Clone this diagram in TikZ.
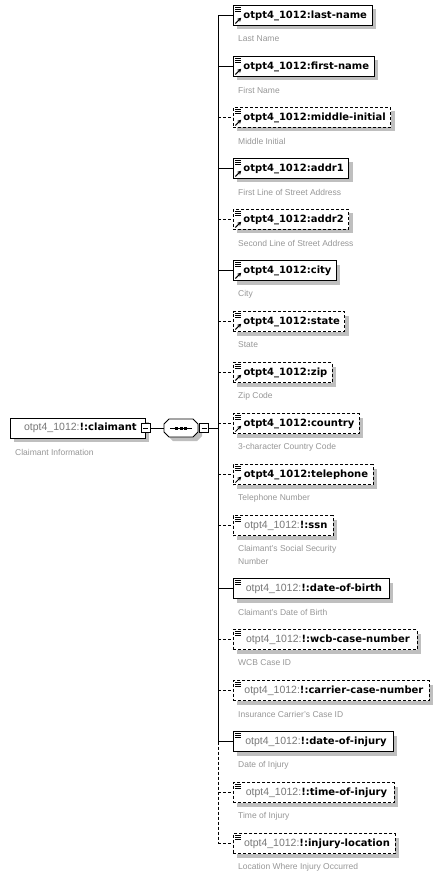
\documentclass[tikz,border=0pt]{standalone}
\usepackage{fontspec}
\setmainfont{Liberation Sans}
\newfontfamily\namefont{DejaVu Sans}
\usepackage{tikz}
\usetikzlibrary{arrows.meta,shadows}

\definecolor{pfxgray}{RGB}{120,120,120}
\definecolor{descgray}{RGB}{150,150,150}
\newcommand{\pfx}{{\normalfont\fontsize{10.5}{12}\selectfont\color{pfxgray}otpt4\_1012:}}

\tikzset{
  shade box/.style={drop shadow={shadow xshift=4pt, shadow yshift=-4pt, fill=black!25, opacity=1}},
  box/.style={draw, line width=0.9pt, fill=white, anchor=west,
    minimum height=20pt, inner xsep=5pt, inner ysep=0pt,
    font=\fontsize{10}{12}\namefont\bfseries,
    execute at begin node={\hspace*{5pt}}, shade box},
  elem/.style={box, path picture={
      \foreach \dy in {1.5,3.5,5.5}
        \draw[solid, line width=0.7pt] ([xshift=1.8pt,yshift=-\dy pt]path picture bounding box.north west) -- ++(5.5pt,0pt);}},
  refelem/.style={box, path picture={
      \foreach \dy in {1.5,3.5,5.5}
        \draw[solid, line width=0.7pt] ([xshift=1.8pt,yshift=-\dy pt]path picture bounding box.north west) -- ++(5.5pt,0pt);
      \draw[solid, line width=1pt, -{Stealth[length=4pt,width=4.2pt]}]
        ([xshift=2pt,yshift=2pt]path picture bounding box.south west) -- ++(5.8pt,5.8pt);}},
  opt/.style={dash pattern=on 3pt off 2pt},
  seq/.style={minimum width=34pt, minimum height=18pt, inner sep=0pt,
    path picture={
      \draw[line width=0.9pt] ([xshift=-11pt]path picture bounding box.center) -- ([xshift=11pt]path picture bounding box.center);
      \foreach \dx in {-6,-1.5,3}
        \fill[black] ([xshift=\dx pt,yshift=-1.5pt]path picture bounding box.center) rectangle ++(3pt,3pt);}},
  minus/.style={draw, line width=0.8pt, fill=white, minimum size=9pt, inner sep=0pt,
    path picture={
      \draw[line width=0.8pt] ([xshift=-2.5pt]path picture bounding box.center) -- ([xshift=2.5pt]path picture bounding box.center);}},
  conn/.style={line width=0.9pt},
  optconn/.style={conn, dash pattern=on 3pt off 2pt},
  desc/.style={anchor=west, inner sep=0pt, font=\fontsize{8.5}{13}\selectfont, text=descgray, align=left}
}

\begin{document}
\begin{tikzpicture}[x=1pt,y=-1pt]
  \useasboundingbox (0,0) rectangle (445,877);
  % parent element and its sequence
  \node[box, minimum width=135pt] (claimant) at (10,428) {\pfx!:claimant};
  \node[desc] (claimantdesc) at (15,452) {Claimant Information};
  \node[minus] (claimantminus) at (claimant.east) {};
  \draw[line width=0.9pt, fill=white, shade box]
    (164,424) -- (169,419) -- (193,419) -- (198,424) -- (198,432) -- (193,437) -- (169,437) -- (164,432) -- cycle;
  \node[seq] (seq) at (181,428) {};
  \node[minus] (seqminus) at (204,428) {};
  \coordinate (spine) at (218,0);
  \draw[conn] (claimantminus) -- (seq);
  \draw[conn] (seqminus) -- (seqminus -| spine);

  % children
  \node[refelem, minimum width=136pt] (lastname) at (233,15.5) {otpt4\_1012:last-name};
  \node[desc] (lastnamedesc) at ([shift={(5,23.5)}]lastname.west) {Last Name};
  \node[refelem, minimum width=140pt] (firstname) at (233,66.5) {otpt4\_1012:first-name};
  \node[desc] (firstnamedesc) at ([shift={(5,23.5)}]firstname.west) {First Name};
  \node[refelem, opt, minimum width=156pt] (middleinitial) at (233,117.5) {otpt4\_1012:middle-initial};
  \node[desc] (middleinitialdesc) at ([shift={(5,23.5)}]middleinitial.west) {Middle Initial};
  \node[refelem, minimum width=114pt] (addr1) at (233,168.5) {otpt4\_1012:addr1};
  \node[desc] (addr1desc) at ([shift={(5,23.5)}]addr1.west) {First Line of Street Address};
  \node[refelem, opt, minimum width=114pt] (addr2) at (233,219.5) {otpt4\_1012:addr2};
  \node[desc] (addr2desc) at ([shift={(5,23.5)}]addr2.west) {Second Line of Street Address};
  \node[refelem, minimum width=103pt] (city) at (233,270.5) {otpt4\_1012:city};
  \node[desc] (citydesc) at ([shift={(5,23.5)}]city.west) {City};
  \node[refelem, opt, minimum width=110pt] (state) at (233,321.5) {otpt4\_1012:state};
  \node[desc] (statedesc) at ([shift={(5,23.5)}]state.west) {State};
  \node[refelem, opt, minimum width=99pt] (zip) at (233,372.5) {otpt4\_1012:zip};
  \node[desc] (zipdesc) at ([shift={(5,23.5)}]zip.west) {Zip Code};
  \node[refelem, opt, minimum width=126pt] (country) at (233,423.5) {otpt4\_1012:country};
  \node[desc] (countrydesc) at ([shift={(5,23.5)}]country.west) {3-character Country Code};
  \node[refelem, opt, minimum width=140pt] (telephone) at (233,474.5) {otpt4\_1012:telephone};
  \node[desc] (telephonedesc) at ([shift={(5,23.5)}]telephone.west) {Telephone Number};
  \node[elem, opt, minimum width=100pt] (ssn) at (233,525.5) {\pfx!:ssn};
  \node[desc] (ssndesc) at ([shift={(5,29)}]ssn.west) {Claimant's Social Security\\Number};
  \node[elem, minimum width=156pt] (dateofbirth) at (233,588.5) {\pfx!:date-of-birth};
  \node[desc] (dateofbirthdesc) at ([shift={(5,23.5)}]dateofbirth.west) {Claimant's Date of Birth};
  \node[elem, opt, minimum width=184pt] (wcbcase) at (233,639.5) {\pfx!:wcb-case-number};
  \node[desc] (wcbcasedesc) at ([shift={(5,23.5)}]wcbcase.west) {WCB Case ID};
  \node[elem, opt, minimum width=196pt] (carriercase) at (233,690.5) {\pfx!:carrier-case-number};
  \node[desc] (carriercasedesc) at ([shift={(5,23.5)}]carriercase.west) {Insurance Carrier's Case ID};
  \node[elem, minimum width=160pt] (dateofinjury) at (233,741.5) {\pfx!:date-of-injury};
  \node[desc] (dateofinjurydesc) at ([shift={(5,23.5)}]dateofinjury.west) {Date of Injury};
  \node[elem, opt, minimum width=161pt] (timeofinjury) at (233,792.5) {\pfx!:time-of-injury};
  \node[desc] (timeofinjurydesc) at ([shift={(5,23.5)}]timeofinjury.west) {Time of Injury};
  \node[elem, opt, minimum width=162pt] (injurylocation) at (233,843.5) {\pfx!:injury-location};
  \node[desc] (injurylocationdesc) at ([shift={(5,23.5)}]injurylocation.west) {Location Where Injury Occurred};

  % spine, solid down to the last required child
  \draw[conn] (lastname -| spine) -- (dateofinjury -| spine);
  \draw[optconn] (dateofinjury -| spine) -- (injurylocation -| spine);
  \draw[conn] (lastname -| spine) -- (lastname);
  \draw[conn] (firstname -| spine) -- (firstname);
  \draw[optconn] (middleinitial -| spine) -- (middleinitial);
  \draw[conn] (addr1 -| spine) -- (addr1);
  \draw[optconn] (addr2 -| spine) -- (addr2);
  \draw[conn] (city -| spine) -- (city);
  \draw[optconn] (state -| spine) -- (state);
  \draw[optconn] (zip -| spine) -- (zip);
  \draw[optconn] (country -| spine) -- (country);
  \draw[optconn] (telephone -| spine) -- (telephone);
  \draw[optconn] (ssn -| spine) -- (ssn);
  \draw[conn] (dateofbirth -| spine) -- (dateofbirth);
  \draw[optconn] (wcbcase -| spine) -- (wcbcase);
  \draw[optconn] (carriercase -| spine) -- (carriercase);
  \draw[conn] (dateofinjury -| spine) -- (dateofinjury);
  \draw[optconn] (timeofinjury -| spine) -- (timeofinjury);
  \draw[optconn] (injurylocation -| spine) -- (injurylocation);
\end{tikzpicture}
\end{document}
